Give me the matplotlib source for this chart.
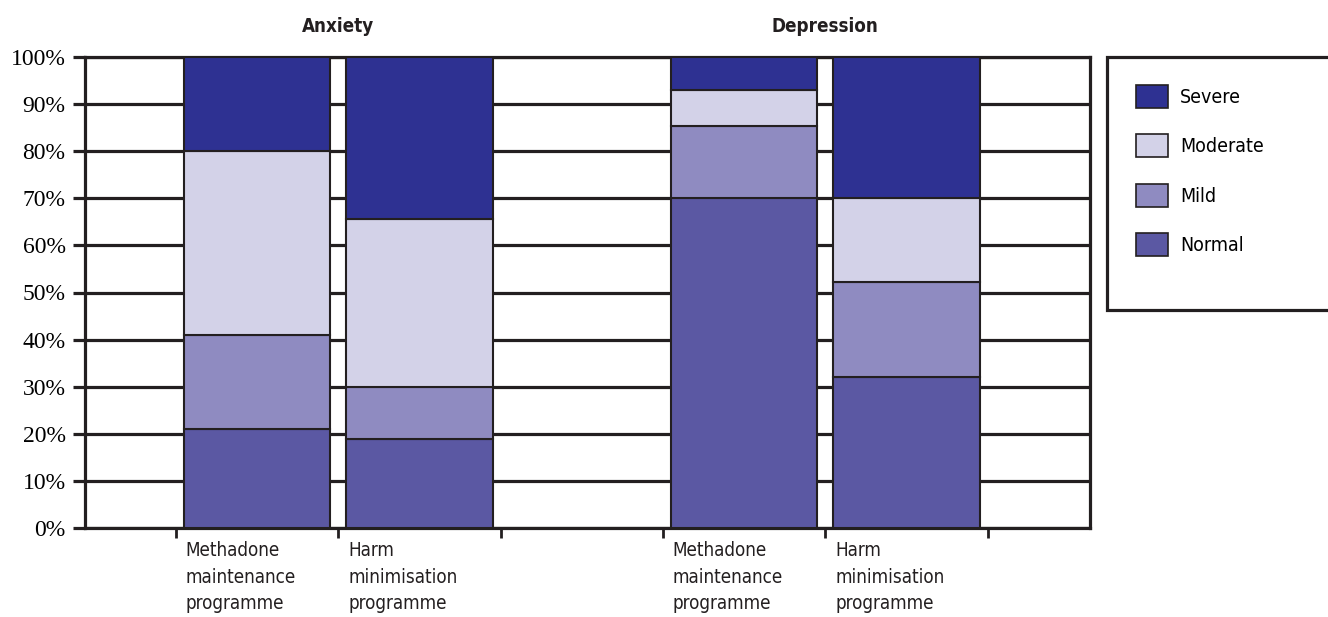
import numpy as np
import matplotlib.pyplot as plt
from matplotlib.patches import Patch, Rectangle

# data (percent of respondents)
groups = ["Anxiety", "Depression"]
programmes = ["Methadone\nmaintenance\nprogramme", "Harm\nminimisation\nprogramme"]
levels = ["Normal", "Mild", "Moderate", "Severe"]
normal = [21, 19, 70, 32]
mild = [20, 11, 15.3, 20.2]
moderate = [39, 35.5, 7.7, 17.8]
severe = [20, 34.5, 7, 30]
positions = [0, 1, 3, 4]

colors = {"Normal": "#5B58A3", "Mild": "#8F8BC1",
          "Moderate": "#D3D2E8", "Severe": "#2E3192"}

sans = ["DejaVu Sans"]
ink = "#231F20"

fig = plt.figure(figsize=(13.28, 6.17), dpi=100)
ax = fig.add_axes([85/1328, 1-528/617, (1090-85)/1328, (528-57)/617])

x = np.array(positions)
bottom = np.zeros(len(x))
for name, vals in zip(levels, [normal, mild, moderate, severe]):
    ax.bar(x, vals, width=0.9, bottom=bottom, color=colors[name],
           edgecolor=ink, linewidth=1.5, zorder=3)
    bottom += np.array(vals)

ax.set_xlim(-1.06, 5.13)
ax.set_ylim(0, 100)
ax.set_yticks(range(0, 101, 10))
ax.set_yticklabels([f"{v}%" for v in range(0, 101, 10)],
                   family=["Liberation Serif"], fontsize=17)
ax.yaxis.grid(True, color=ink, linewidth=2.3, zorder=1)
ax.set_axisbelow(True)
ax.tick_params(axis="y", length=9, width=2.3, color=ink, pad=5)

ax.set_xticks([-0.5, 0.5, 1.5, 2.5, 3.5, 4.5])
ax.set_xticklabels([])
ax.tick_params(axis="x", length=7, width=2, color=ink)

for s in ["left", "right", "bottom", "top"]:
    ax.spines[s].set_linewidth(2.3)
    ax.spines[s].set_color(ink)

# category labels under bars
for pos, i in zip(positions, range(4)):
    ax.text(pos - 0.44, -0.028, programmes[i % 2], transform=ax.get_xaxis_transform(),
            ha="left", va="top", fontsize=13.5, family=sans, fontstretch="condensed",
            linespacing=1.5, color=ink)

# group titles
for g, cx in zip(groups, [0.5, 3.5]):
    ax.text(cx, 1.065, g, transform=ax.get_xaxis_transform(), ha="center",
            va="center", fontsize=13.5, fontweight="bold", family=sans,
            fontstretch="condensed", color=ink)

# legend box
fig.patches.append(Rectangle((1107/1328, 1-310/617), 0.3, (310-57)/617,
                             transform=fig.transFigure, facecolor="white",
                             edgecolor=ink, linewidth=2.3))
handles = [Patch(facecolor=colors[n], edgecolor=ink, linewidth=1.2)
           for n in ["Severe", "Moderate", "Mild", "Normal"]]
leg = fig.legend(handles, ["Severe", "Moderate", "Mild", "Normal"],
                 loc="upper left", bbox_to_anchor=(1136/1328, 1-85/617),
                 frameon=False, borderpad=0, borderaxespad=0,
                 handlelength=1.65, handleheight=1.45, labelspacing=1.35,
                 handletextpad=0.6,
                 prop={"family": sans, "size": 14, "stretch": "condensed"})

fig.savefig("out.png", dpi=100)
